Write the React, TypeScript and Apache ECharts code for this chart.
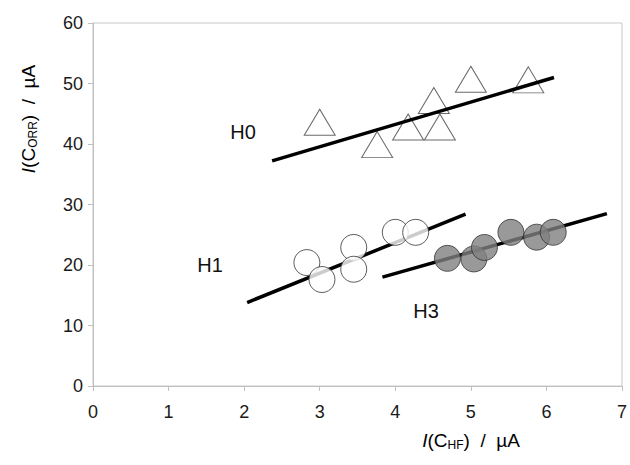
import React, { useEffect, useRef } from "react";
import * as echarts from "echarts";

const xTicks = [0, 1, 2, 3, 4, 5, 6, 7];
const yTicks = [0, 10, 20, 30, 40, 50, 60];

const h0X = [3.0, 3.76, 4.17, 4.51, 4.59, 5.0, 5.76];
const h0Y = [43.6, 39.9, 42.8, 47.2, 42.8, 50.7, 50.6];
const h1X = [2.83, 3.03, 3.45, 3.45, 4.0, 4.27];
const h1Y = [20.4, 17.6, 22.9, 19.3, 25.4, 25.4];
const h3X = [4.69, 5.04, 5.18, 5.53, 5.87, 6.09];
const h3Y = [21.1, 21.0, 22.9, 25.4, 24.6, 25.4];

const fitH0X = [2.37, 6.1];
const fitH0Y = [37.2, 51.0];
const fitH1X = [2.04, 4.93];
const fitH1Y = [13.8, 28.4];
const fitH3X = [3.83, 6.8];
const fitH3Y = [18.0, 28.5];

const seriesLabels = ["H0", "H1", "H3"];

const zip = (xs: number[], ys: number[]) => xs.map((x, i) => [x, ys[i]]);

const FONT = "'Liberation Sans', Arial, sans-serif";

export default function App() {
  const ref = useRef<HTMLDivElement>(null);
  useEffect(() => {
    if (!ref.current) return;
    const chart = echarts.init(ref.current, undefined, { renderer: "svg" });
    const richName = {
      base: { fontSize: 19, fontFamily: FONT, color: "#111", lineHeight: 22 },
      it: { fontSize: 19, fontFamily: FONT, color: "#111", fontStyle: "italic" as const, lineHeight: 22 },
      sub: { fontSize: 12, fontFamily: FONT, color: "#111", verticalAlign: "bottom" as const, lineHeight: 14, padding: [8, 0, 0, 0] },
    };
    chart.setOption({
      animation: false,
      grid: {
        left: 93,
        right: 6,
        top: 23,
        bottom: 79,
        show: true,
        borderColor: "#c8c8c8",
        borderWidth: 1,
      },
      xAxis: {
        type: "value",
        min: 0,
        max: 7,
        interval: 1,
        splitLine: { show: false },
        axisLine: { lineStyle: { color: "#c0c0c0" } },
        axisTick: { show: true, length: 5, lineStyle: { color: "#c0c0c0" } },
        axisLabel: {
          fontSize: 18,
          fontFamily: FONT,
          color: "#1a1a1a",
          margin: 17,
          formatter: (v: number) => (xTicks.includes(v) ? String(v) : ""),
        },
      },
      yAxis: {
        type: "value",
        min: 0,
        max: 60,
        interval: 10,
        splitLine: { show: false },
        axisLine: { show: true, lineStyle: { color: "#c0c0c0" } },
        axisTick: { show: true, length: 5, lineStyle: { color: "#c0c0c0" } },
        axisLabel: {
          fontSize: 18,
          fontFamily: FONT,
          color: "#1a1a1a",
          margin: 10,
          formatter: (v: number) => (yTicks.includes(v) ? String(v) : ""),
        },
      },
      graphic: [
        {
          type: "text",
          x: 471,
          y: 440,
          style: {
            text: "{it|I}{base|(C}{sub|HF}{base|)  /  µA}",
            rich: richName,
            align: "center",
            verticalAlign: "middle",
          },
        },
        {
          type: "text",
          x: 28,
          y: 119,
          rotation: Math.PI / 2,
          style: {
            text: "{it|I}{base|(C}{sub|ORR}{base|)  /  µA}",
            rich: richName,
            align: "center",
            verticalAlign: "middle",
          },
        },
        {
          type: "text",
          x: 243,
          y: 132,
          style: { text: seriesLabels[0], fontSize: 20, fontFamily: FONT, fill: "#111", align: "center", verticalAlign: "middle" },
        },
        {
          type: "text",
          x: 210,
          y: 265,
          style: { text: seriesLabels[1], fontSize: 20, fontFamily: FONT, fill: "#111", align: "center", verticalAlign: "middle" },
        },
        {
          type: "text",
          x: 426,
          y: 311,
          style: { text: seriesLabels[2], fontSize: 20, fontFamily: FONT, fill: "#111", align: "center", verticalAlign: "middle" },
        },
      ],
      series: [
        {
          name: "H0",
          type: "scatter",
          z: 2,
          symbol: "triangle",
          symbolSize: [31, 26],
          itemStyle: { color: "#ffffff", borderColor: "#444", borderWidth: 1 },
          data: zip(h0X, h0Y),
        },
        {
          name: "H0 fit",
          type: "line",
          z: 3,
          symbol: "none",
          lineStyle: { color: "#000", width: 3.5 },
          data: zip(fitH0X, fitH0Y),
        },
        {
          name: "H1 fit",
          type: "line",
          z: 2,
          symbol: "none",
          lineStyle: { color: "#000", width: 3.5 },
          data: zip(fitH1X, fitH1Y),
        },
        {
          name: "H3 fit",
          type: "line",
          z: 2,
          symbol: "none",
          lineStyle: { color: "#000", width: 3.5 },
          data: zip(fitH3X, fitH3Y),
        },
        {
          name: "H1",
          type: "scatter",
          z: 3,
          symbol: "circle",
          symbolSize: 26,
          itemStyle: { color: "#ffffff", borderColor: "#333", borderWidth: 1 },
          data: zip(h1X, h1Y),
        },
        {
          name: "H3",
          type: "scatter",
          z: 3,
          symbol: "circle",
          symbolSize: 26,
          itemStyle: { color: "#808080", borderColor: "#333", borderWidth: 1 },
          data: zip(h3X, h3Y),
        },
      ],
    });
    return () => chart.dispose();
  }, []);
  return (
    <div
      ref={ref}
      style={{ position: "fixed", left: 0, top: 0, width: 630, height: 465, background: "#fff" }}
    />
  );
}
